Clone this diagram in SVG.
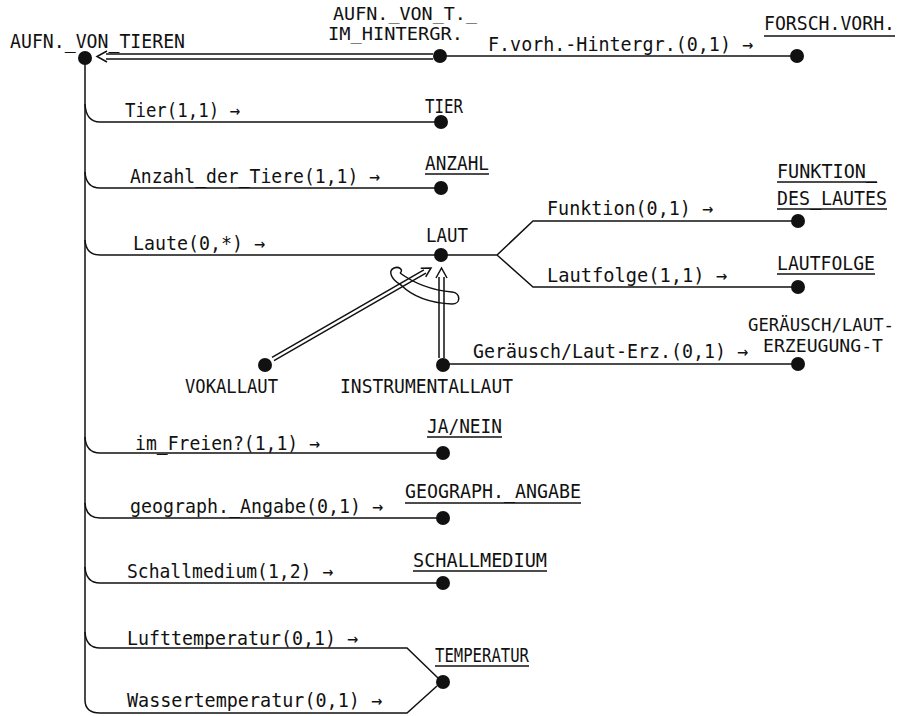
<svg xmlns="http://www.w3.org/2000/svg" width="907" height="716" viewBox="0 0 907 716">
<style>
text{font-family:"DejaVu Sans Mono","Liberation Mono",monospace;font-size:20px;fill:#111}
text.s{font-size:18px}
.c{fill:none;stroke:#111;stroke-width:1.5}
.u{stroke:#111;stroke-width:1.3}
.d{fill:#111}
</style>
<rect width="907" height="716" fill="#fff"/>
<g id="connectors">
<path class="c" d="M85,58 V700 Q85,713 100,713 H407 L437,686"/>
<path class="c" d="M85,104 Q86,122 100,122 H441"/>
<path class="c" d="M85,172 Q86,188 100,188 H441"/>
<path class="c" d="M85,240 Q86,255 100,255 H497 L533,221 H798 M497,255 L533,287 H798"/>
<path class="c" d="M85,437 Q86,453 100,453 H443"/>
<path class="c" d="M85,503 Q86,518 100,518 H443"/>
<path class="c" d="M85,567 Q86,583 100,583 H443"/>
<path class="c" d="M85,632 Q86,648 100,648 H407 L438,678"/>
<path class="c" d="M440,56 H797"/>
<path class="c" d="M443,364 H798"/>
<path class="c" d="M106,54 H433 M106,59 H433 M107,51 L97,56.5 L107,62"/>
<path class="c" d="M439,358 V277 M444,358 V277 M436,278 L441.5,268 L447,278"/>
<path class="c" d="M274,360.7 L425.9,273.2 M272,357.3 L423.9,269.8 M425.7,276.8 L431,268 L420.7,268.2"/>
<path class="c" stroke-width="1.3" d="M400,273 C415,284 430,290 452,292 C461,293 461,304 452,304 C430,303 412,296 401,285 C392,280 387,271 394,268 C399,266 404,270 400,273"/>
</g>
<g id="n_aufn"><circle class="d" cx="85" cy="58" r="7"/><text x="10" y="48" textLength="175" lengthAdjust="spacingAndGlyphs">AUFN._VON_TIEREN</text></g>
<g id="n_hintergr"><circle class="d" cx="440" cy="56" r="7"/><text class="s" x="333" y="20" textLength="144" lengthAdjust="spacingAndGlyphs">AUFN._VON_T._</text><text class="s" x="328" y="40" textLength="135" lengthAdjust="spacingAndGlyphs">IM_HINTERGR.</text></g>
<g id="n_forsch"><circle class="d" cx="797" cy="56" r="7"/><text x="764" y="30" textLength="131" lengthAdjust="spacingAndGlyphs">FORSCH.VORH.</text><line class="u" x1="764" y1="36" x2="895" y2="36"/></g>
<g id="n_tier"><circle class="d" cx="441" cy="122" r="7"/><text x="425" y="113" textLength="38" lengthAdjust="spacingAndGlyphs">TIER</text></g>
<g id="n_anzahl"><circle class="d" cx="441" cy="188" r="7"/><text x="425" y="170" textLength="64" lengthAdjust="spacingAndGlyphs">ANZAHL</text><line class="u" x1="425" y1="174" x2="489" y2="174"/></g>
<g id="n_laut"><circle class="d" cx="441" cy="255" r="7"/><text x="426" y="242" textLength="42" lengthAdjust="spacingAndGlyphs">LAUT</text></g>
<g id="n_funktion"><circle class="d" cx="798" cy="221" r="7"/><text x="777" y="178" textLength="100" lengthAdjust="spacingAndGlyphs">FUNKTION_</text><line class="u" x1="777" y1="182" x2="877" y2="182"/><text x="777" y="205" textLength="110" lengthAdjust="spacingAndGlyphs">DES_LAUTES</text><line class="u" x1="777" y1="209" x2="887" y2="209"/></g>
<g id="n_lautfolge"><circle class="d" cx="798" cy="287" r="7"/><text x="777" y="270" textLength="98" lengthAdjust="spacingAndGlyphs">LAUTFOLGE</text><line class="u" x1="777" y1="274" x2="875" y2="274"/></g>
<g id="n_vokal"><circle class="d" cx="265" cy="365" r="7"/><text x="185" y="393" textLength="93" lengthAdjust="spacingAndGlyphs">VOKALLAUT</text></g>
<g id="n_instr"><circle class="d" cx="443" cy="365" r="7"/><text x="340" y="393" textLength="173" lengthAdjust="spacingAndGlyphs">INSTRUMENTALLAUT</text></g>
<g id="n_geraeusch"><circle class="d" cx="798" cy="364" r="7"/><text class="s" x="748" y="331" textLength="146" lengthAdjust="spacingAndGlyphs">GERÄUSCH/LAUT-</text><text class="s" x="763" y="352" textLength="120" lengthAdjust="spacingAndGlyphs">ERZEUGUNG-T</text></g>
<g id="n_janein"><circle class="d" cx="443" cy="453" r="7"/><text x="427" y="433" textLength="75" lengthAdjust="spacingAndGlyphs">JA/NEIN</text><line class="u" x1="427" y1="437" x2="502" y2="437"/></g>
<g id="n_geo"><circle class="d" cx="443" cy="518" r="7"/><text x="405" y="498" textLength="176" lengthAdjust="spacingAndGlyphs">GEOGRAPH._ANGABE</text><line class="u" x1="405" y1="503" x2="581" y2="503"/></g>
<g id="n_schall"><circle class="d" cx="443" cy="583" r="7"/><text x="413" y="567" textLength="134" lengthAdjust="spacingAndGlyphs">SCHALLMEDIUM</text><line class="u" x1="413" y1="571" x2="547" y2="571"/></g>
<g id="n_temp"><circle class="d" cx="443" cy="682" r="7"/><text x="435" y="662" textLength="94" lengthAdjust="spacingAndGlyphs">TEMPERATUR</text><line class="u" x1="435" y1="666" x2="529" y2="666"/></g>
<g id="labels">
<text x="488" y="51" textLength="265" lengthAdjust="spacingAndGlyphs">F.vorh.-Hintergr.(0,1) →</text>
<text x="125" y="117" textLength="115" lengthAdjust="spacingAndGlyphs">Tier(1,1) →</text>
<text x="130" y="183" textLength="250" lengthAdjust="spacingAndGlyphs">Anzahl_der_Tiere(1,1) →</text>
<text x="133" y="250" textLength="132" lengthAdjust="spacingAndGlyphs">Laute(0,*) →</text>
<text x="547" y="215" textLength="166" lengthAdjust="spacingAndGlyphs">Funktion(0,1) →</text>
<text x="547" y="282" textLength="180" lengthAdjust="spacingAndGlyphs">Lautfolge(1,1) →</text>
<text x="473" y="358" textLength="275" lengthAdjust="spacingAndGlyphs">Geräusch/Laut-Erz.(0,1) →</text>
<text x="135" y="450" textLength="185" lengthAdjust="spacingAndGlyphs">im_Freien?(1,1) →</text>
<text x="130" y="513" textLength="253" lengthAdjust="spacingAndGlyphs">geograph._Angabe(0,1) →</text>
<text x="127" y="578" textLength="206" lengthAdjust="spacingAndGlyphs">Schallmedium(1,2) →</text>
<text x="127" y="645" textLength="231" lengthAdjust="spacingAndGlyphs">Lufttemperatur(0,1) →</text>
<text x="127" y="707" textLength="255" lengthAdjust="spacingAndGlyphs">Wassertemperatur(0,1) →</text>
</g>
</svg>
